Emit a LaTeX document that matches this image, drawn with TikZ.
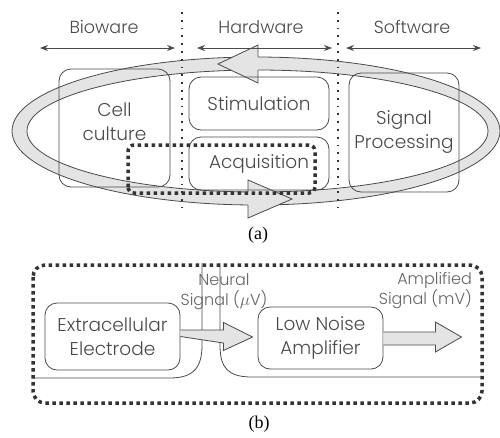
\documentclass[tikz,border=0pt]{standalone}
\usepackage{fontspec}
\setmainfont{Poppins}[UprightFont=* Light]
\newfontfamily\capfont{Liberation Serif}
\usetikzlibrary{arrows.meta,calc,positioning}
\definecolor{ink}{HTML}{4A4A4A}
\definecolor{bandgray}{HTML}{E4E4E4}
\definecolor{dotgray}{HTML}{333333}

\begin{document}
\begin{tikzpicture}[
    x=1pt, y=-1pt,
    box/.style={draw=ink, line width=0.8pt, rounded corners=12pt, inner sep=0pt, align=center, text=ink, font=\fontsize{18.5}{24}\selectfont},
    lbl/.style={text=ink, font=\fontsize{17.5}{20}\selectfont},
    sublbl/.style={text=ink!85, align=center, inner sep=0pt, font=\fontsize{16}{20}\selectfont},
    dbl/.style={<->, >={Stealth[length=8pt,width=6pt]}, draw=ink, line width=0.8pt},
    divider/.style={draw=dotgray, line width=1.8pt, dash pattern=on 1.8pt off 6pt},
    thickdot/.style={draw=dotgray, line width=3.5pt, dash pattern=on 3.5pt off 3.5pt},
    band/.style={draw=ink, line width=0.8pt, fill=bandgray},
    wire/.style={draw=ink, line width=0.8pt}
]
\useasboundingbox (0,0) rectangle (500,437);

% (a) loop band
\fill[bandgray, even odd rule] (256,131) ellipse [x radius=244pt, y radius=74pt]
    (257.5,131) ellipse [x radius=230.5pt, y radius=61pt];
\draw[wire] (256,131) ellipse [x radius=244pt, y radius=74pt];
\draw[wire] (257.5,131) ellipse [x radius=230.5pt, y radius=61pt];
\path[band] (258,57) -- (258,45) -- (218,64) -- (258,83) -- (258,70);
\path[band] (248,192) -- (248,180) -- (292,199) -- (248,218) -- (248,205);

% (a) domains
\node[lbl] (bio) at (104,27) {Bioware};
\node[lbl] (hard) at (261,27) {Hardware};
\node[lbl] (soft) at (412,27) {Software};
\coordinate (bioL) at (40,48);   \coordinate (bioR) at (175,48);
\coordinate (hardL) at (197,48); \coordinate (hardR) at (332,48);
\coordinate (softL) at (346,48); \coordinate (softR) at (481,48);
\draw[dbl] (bioL) -- (bioR);
\draw[dbl] (hardL) -- (hardR);
\draw[dbl] (softL) -- (softR);
\draw[divider] (182,12) -- (182,208);
\draw[divider] (338,12) -- (338,208);

\node[box, minimum width=111pt, minimum height=118pt, text depth=12pt] (cell) at (114.5,128) {Cell\\culture};
\node[box, minimum width=140pt, minimum height=53pt] (stim) at (259,103.5) {Stimulation};
\node[box, minimum width=140pt, minimum height=53pt] (acq) at (259,163.5) {Acquisition};
\node[box, minimum width=110pt, minimum height=119pt] (sig) at (404,132.5) {Signal\\Processing};
\draw[thickdot, rounded corners=6pt] (128,193) -- (128,145) -- (315,145) -- (315,193) -- cycle;

\node[font=\capfont\fontsize{18}{18}\selectfont] (capa) at (258,235) {(a)};

% (b) signal chain
\draw[wire] (33,378) -- (170,378) .. controls (195,378) and (202,366) .. (202,345) -- (202,263);
\draw[wire] (220,263) -- (220,345) .. controls (220,368) and (228,377) .. (252,377) -- (483,377);

\node[box, minimum width=135pt, minimum height=67pt] (elec) at (112.5,336.5) {Extracellular\\Electrode};
\node[box, minimum width=125pt, minimum height=62pt] (amp) at (320.5,338) {Low Noise\\Amplifier};

\path[band] ($(elec.east)+(0,-6.5)$) -- ($(elec.east)+(43,-6.5)$) -- ($(elec.east)+(43,-14)$)
    -- ($(amp.west)+(-5,-1)$) -- ($(elec.east)+(43,14)$) -- ($(elec.east)+(43,6.5)$) -- (elec.east);
\path[band] ($(amp.east)+(0,-6)$) -- ($(amp.east)+(52,-6)$) -- ($(amp.east)+(52,-16)$)
    -- ($(amp.east)+(78,-1)$) -- ($(amp.east)+(52,14)$) -- ($(amp.east)+(52,7)$) -- ($(amp.east)+(0,7)$);

\node[sublbl] (neural) at (224,292) {Neural\\Signal ($\mu$V)};
\node[sublbl, align=right, anchor=east] (ampsig) at (472,291) {Amplified\\Signal (mV)};

\draw[thickdot, rounded corners=12pt] (33,265) rectangle (482,403);

\node[font=\capfont\fontsize{18}{18}\selectfont] (capb) at (259,424) {(b)};
\end{tikzpicture}
\end{document}
